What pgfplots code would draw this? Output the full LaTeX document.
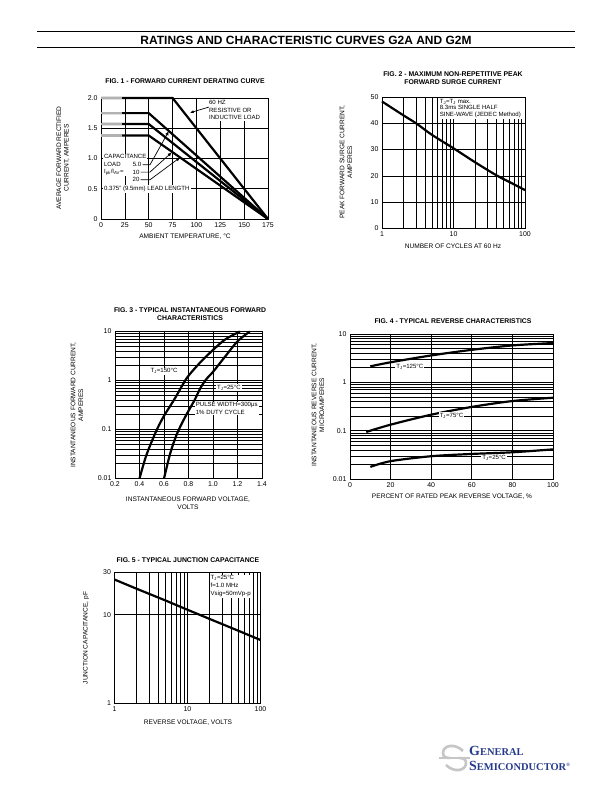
\documentclass[border=0pt]{standalone}
\usepackage{fontspec}
\setmainfont{Liberation Sans}
\newfontfamily\logofont{Liberation Serif}
\usepackage{pgfplots}
\pgfplotsset{compat=1.18}
\usetikzlibrary{arrows.meta}
\definecolor{logoblue}{RGB}{38,58,140}
\newcommand{\fs}[1]{\fontsize{#1}{#1}\selectfont}
\pgfplotsset{
  dsheet/.style={scale only axis, anchor=south west, clip=false,
    axis line style={line width=0.8pt},
    grid style={black, line width=0.65pt},
    minor grid style={black, line width=0.65pt},
    tick style={draw=none},
    ticklabel style={font=\fs{7}},
    /pgf/number format/assume math mode=true},
  curve/.style={black, line width=2.2pt, no marks},
}
\tikzset{ann/.style={font=\fontsize{6.1}{7.3}\selectfont, fill=white, inner sep=1pt, align=left},
  lab/.style={font=\fontsize{6.6}{7.6}\selectfont, align=center},
  ttl/.style={font=\bfseries\fontsize{6.9}{7.4}\selectfont, align=center}}
\begin{document}
\begin{tikzpicture}
\path[use as bounding box, fill=white] (0,0) rectangle (612bp,792bp);

% ---------- FIG 1
\begin{axis}[dsheet, at={(101bp,573bp)}, width=167bp, height=121bp,
  xmin=0, xmax=175, ymin=0, ymax=2,
  xtick={0,25,50,75,100,125,150,175},
  ytick={0,0.5,1,1.5,2}, yticklabels={0,0.5,1.0,1.5,2.0},
  grid=major]
\addplot[curve] coordinates {(0,2) (75,2) (175,0)};
\addplot[curve] coordinates {(0,1.75) (50,1.75) (175,0)};
\addplot[curve] coordinates {(0,1.57) (50,1.57) (175,0)};
\addplot[curve] coordinates {(0,1.38) (50,1.38) (175,0)};
\addplot[gray!60, line width=2.2pt, no marks] coordinates {(0,2) (22,2)};
\addplot[gray!60, line width=2.2pt, no marks] coordinates {(0,1.75) (22,1.75)};
\addplot[gray!60, line width=2.2pt, no marks] coordinates {(0,1.57) (22,1.57)};
\addplot[gray!60, line width=2.2pt, no marks] coordinates {(0,1.38) (22,1.38)};
\node[ann, font=\fontsize{6.1}{8}\selectfont, anchor=north west] at (axis cs:112,1.99) {60 HZ\\RESISTIVE OR\\INDUCTIVE LOAD};
\draw[-{Latex[length=4pt,width=3pt]}, line width=0.7pt] (axis cs:113,1.85) -- (axis cs:93,1.755);
\node[ann, anchor=north west] at (axis cs:2,1.085) {CAPACITANCE\\LOAD\\I\textsubscript{pk}/I\textsubscript{AV}=};
\node[ann, anchor=east] at (axis cs:43.5,0.895) {5.0};
\node[ann, anchor=east] at (axis cs:41.5,0.775) {10};
\node[ann, anchor=east] at (axis cs:41.5,0.648) {20};
\draw[-{Latex[length=4pt,width=3.5pt]}, line width=0.7pt] (axis cs:43.5,0.895) -- (axis cs:51.3,0.895) -- (axis cs:71,1.45);
\draw[-{Latex[length=4pt,width=3.5pt]}, line width=0.7pt] (axis cs:41.5,0.775) -- (axis cs:51.3,0.775) -- (axis cs:74.1,1.10);
\draw[-{Latex[length=4pt,width=3.5pt]}, line width=0.7pt] (axis cs:41.5,0.648) -- (axis cs:51.3,0.648) -- (axis cs:82.8,1.016);
\node[ann, anchor=west] at (axis cs:2,0.5) {0.375'' (9.5mm) LEAD LENGTH};
\end{axis}

% ---------- FIG 2
\begin{axis}[dsheet, xmode=log, at={(382bp,563.5bp)}, width=143bp, height=131.5bp,
  xmin=1, xmax=100, ymin=0, ymax=50,
  xtick={1,10,100}, xticklabels={1,10,100},
  ytick={0,10,20,30,40,50},
  xmajorgrids, xminorgrids, ymajorgrids]
\addplot[curve, smooth] coordinates {(1,48.3) (2,43) (3,40) (5,35.6) (10,30.5) (20,25.2) (40,20.2) (70,16.8) (100,14.6)};
\node[ann, font=\fontsize{6.1}{6.8}\selectfont, anchor=north west] at (axis cs:6.2,49.7) {T\textsubscript{J}=T\textsubscript{J} max.\\8.3ms SINGLE HALF\\SINE-WAVE (JEDEC Method)};
\end{axis}

% ---------- FIG 3
\begin{axis}[dsheet, ymode=log, at={(115bp,313.5bp)}, width=147bp, height=147bp,
  xmin=0.2, xmax=1.4, ymin=0.01, ymax=10,
  xtick={0.2,0.4,0.6,0.8,1.0,1.2,1.4}, xticklabels={0.2,0.4,0.6,0.8,1.0,1.2,1.4},
  ytick={0.01,0.1,1,10}, yticklabels={0.01,0.1,1,10},
  xmajorgrids, ymajorgrids, yminorgrids]
\addplot[curve, smooth] coordinates {(0.4,0.01) (0.45,0.027) (0.5,0.057) (0.55,0.11) (0.6,0.19) (0.65,0.3) (0.7,0.48) (0.75,0.8) (0.8,1.25) (0.9,2.4) (1.0,4.2) (1.1,6.9) (1.22,10)};
\addplot[curve, smooth] coordinates {(0.6,0.01) (0.65,0.032) (0.7,0.075) (0.75,0.14) (0.8,0.24) (0.85,0.4) (0.9,0.72) (0.95,1.1) (1.0,1.5) (1.1,3.1) (1.2,6.3) (1.3,10)};
\node[ann] at (axis cs:0.6,1.55) {T\textsubscript{J}=150°C};
\node[ann] at (axis cs:1.13,0.72) {T\textsubscript{J}=25°C};
\node[ann, anchor=west] at (axis cs:0.85,0.27) {PULSE WIDTH=300μs\\1\% DUTY CYCLE};
\end{axis}

% ---------- FIG 4
\begin{axis}[dsheet, ymode=log, at={(350bp,313bp)}, width=203bp, height=145bp,
  xmin=0, xmax=100, ymin=0.01, ymax=10,
  xtick={0,20,40,60,80,100},
  ytick={0.01,0.1,1,10}, yticklabels={0.01,0.1,1,10},
  xmajorgrids, ymajorgrids, yminorgrids]
\addplot[curve, smooth] coordinates {(10,2.14) (20,2.6) (40,3.6) (60,4.7) (80,5.8) (100,6.5)};
\addplot[curve, smooth] coordinates {(8,0.094) (20,0.133) (40,0.214) (60,0.31) (80,0.41) (100,0.48)};
\addplot[curve, smooth] coordinates {(10,0.0178) (20,0.0234) (40,0.0296) (60,0.033) (80,0.0357) (100,0.041)};
\node[ann] at (axis cs:29.5,2.05) {T\textsubscript{J}=125°C};
\node[ann] at (axis cs:50,0.2) {T\textsubscript{J}=75°C};
\node[ann] at (axis cs:71,0.027) {T\textsubscript{J}=25°C};
\end{axis}

% ---------- FIG 5
\begin{axis}[dsheet, xmode=log, ymode=log, at={(114.5bp,88.5bp)}, width=146bp, height=131bp,
  xmin=1, xmax=100, ymin=1, ymax=30,
  xtick={1,10,100}, xticklabels={1,10,100},
  ytick={1,10,30}, yticklabels={1,10,30},
  grid=both]
\addplot[curve] coordinates {(1,25) (2,19.7) (5,14.5) (10,11.4) (20,9.0) (50,6.6) (100,5.2)};
\node[ann, font=\fontsize{6.1}{7.8}\selectfont, anchor=north west] at (axis cs:20,28.5) {T\textsubscript{J}=25°C\\f=1.0 MHz\\Vsig=50mVp-p};
\end{axis}

% ---------- texts in page pixel coordinates
\begin{scope}[x=1bp, y=-1bp, yshift=792bp]
\draw[line width=0.8pt] (37,31) -- (575,31);
\draw[line width=0.8pt] (37,47) -- (575,47);
\node[font=\bfseries\fs{12}] at (306,40) {RATINGS AND CHARACTERISTIC CURVES G2A AND G2M};

\node[ttl] at (185,81) {FIG. 1 - FORWARD CURRENT DERATING CURVE};
\node[lab, rotate=90] at (63,158) {AVERAGE FORWARD RECTIFIED\\CURRENT, AMPERES};
\node[lab] at (185,237) {AMBIENT TEMPERATURE, °C};

\node[ttl] at (453,78) {FIG. 2 - MAXIMUM NON-REPETITIVE PEAK\\FORWARD SURGE CURRENT};
\node[lab, rotate=90] at (346,162) {PEAK FORWARD SURGE CURRENT,\\AMPERES};
\node[lab] at (453,246) {NUMBER OF CYCLES AT 60 Hz};

\node[ttl] at (190,314) {FIG. 3 - TYPICAL INSTANTANEOUS FORWARD\\CHARACTERISTICS};
\node[lab, rotate=90] at (77,405) {INSTANTANEOUS FORWARD CURRENT,\\AMPERES};
\node[lab] at (188,503) {INSTANTANEOUS FORWARD VOLTAGE,\\VOLTS};

\node[ttl] at (453,321) {FIG. 4 - TYPICAL REVERSE CHARACTERISTICS};
\node[lab, rotate=90] at (318,405) {INSTANTANEOUS REVERSE CURRENT,\\MICROAMPERES};
\node[lab] at (452,497) {PERCENT OF RATED PEAK REVERSE VOLTAGE, \%};

\node[ttl] at (188,560) {FIG. 5 - TYPICAL JUNCTION CAPACITANCE};
\node[lab, rotate=90] at (86,638) {JUNCTION CAPACITANCE, pF};
\node[lab] at (188,723) {REVERSE VOLTAGE, VOLTS};

% logo
\draw[gray!45, line width=2.6bp] (463,751) .. controls (455,743) and (443,745) .. (443,753) .. controls (443,757) and (446,758) .. (450,758);
\draw[gray!45, line width=2.6bp] (446,765) .. controls (454,773) and (466,771) .. (466,763) .. controls (466,759) and (463,758) .. (459,758);
\draw[gray!45, line width=1.8bp] (439,758) -- (470,758);
\node[anchor=base west, inner sep=0pt, text=logoblue, font=\logofont\bfseries] at (469,756) {{\fs{14}G}{\fs{10.5}ENERAL}};
\node[anchor=base west, inner sep=0pt, text=logoblue, font=\logofont\bfseries] at (469,770.5) {{\fs{14}S}{\fs{10.5}EMICONDUCTOR}\raisebox{4pt}{\fs{5}®}};
\end{scope}
\end{tikzpicture}
\end{document}
